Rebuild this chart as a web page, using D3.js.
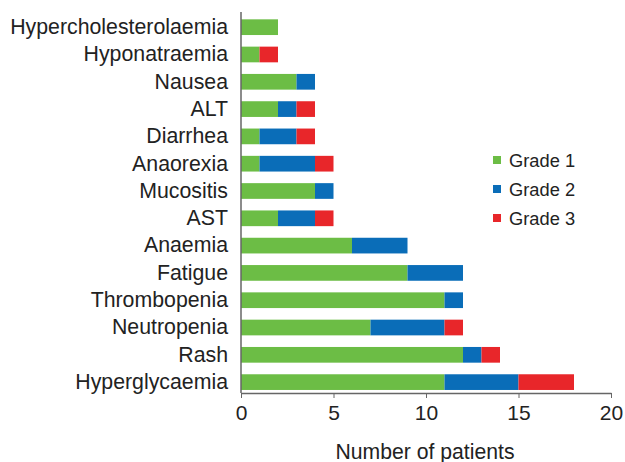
<!DOCTYPE html>
<html><head><meta charset="utf-8">
<script src="https://cdn.jsdelivr.net/npm/d3@7"></script>
<style>body{margin:0;background:#fff;} text{font-family:"Liberation Sans",Arial,sans-serif;fill:#222;}</style>
</head><body><svg id="c" width="625" height="462"></svg>
<script>
const categories = ["Hypercholesterolaemia","Hyponatraemia","Nausea","ALT","Diarrhea","Anaorexia","Mucositis","AST","Anaemia","Fatigue","Thrombopenia","Neutropenia","Rash","Hyperglycaemia"];
const grade1 = [2,1,3,2,1,1,4,2,6,9,11,7,12,11];
const grade2 = [0,0,1,1,2,3,1,2,3,3,1,4,1,4];
const grade3 = [0,1,0,1,1,1,0,1,0,0,0,1,1,3];
const seriesNames = ["Grade 1","Grade 2","Grade 3"];
const colors = ["#6cbd45","#0a6db8","#e8262a"];
const xTicks = [0,5,10,15,20];

const svg = d3.select("#c");
const x = d3.scaleLinear().domain([0,20]).range([241,611]);
const y = d3.scaleBand().domain(categories).range([16.6,392.7]).paddingInner(0.425).paddingOuter(0.1);

const rows = categories.map((c,i)=>({cat:c,"Grade 1":grade1[i],"Grade 2":grade2[i],"Grade 3":grade3[i]}));
const stack = d3.stack().keys(seriesNames)(rows);

svg.append("g").selectAll("g").data(stack).join("g")
  .attr("fill",(d,i)=>colors[i])
  .selectAll("rect").data(d=>d).join("rect")
  .attr("x",d=>x(d[0])).attr("width",d=>x(d[1])-x(d[0]))
  .attr("y",d=>y(d.data.cat)).attr("height",y.bandwidth());

// y axis
const ya = svg.append("g").attr("transform","translate(241,0)").call(d3.axisLeft(y).tickSize(0).tickPadding(13));
ya.select(".domain").attr("d","M0,12V393").attr("stroke","#666").attr("stroke-width",1.5);
ya.selectAll("text").attr("font-size",21.3).attr("font-family","Liberation Sans, Arial, sans-serif").attr("fill","#222");

// x axis
const xa = svg.append("g").attr("transform","translate(0,393)").call(d3.axisBottom(x).tickValues(xTicks).tickSize(5).tickPadding(7).tickSizeOuter(0));
xa.select(".domain").attr("stroke","#666").attr("stroke-width",1.5);
xa.selectAll("line").attr("stroke","#666");
xa.selectAll("text").attr("font-size",21).attr("font-family","Liberation Sans, Arial, sans-serif").attr("fill","#222");

svg.append("text").attr("x",425).attr("y",459).attr("text-anchor","middle").attr("font-size",21.2).text("Number of patients");

// legend
const lg = svg.append("g").selectAll("g").data(seriesNames).join("g")
  .attr("transform",(d,i)=>`translate(497,${160+i*29})`);
lg.append("rect").attr("x",-4).attr("y",-4).attr("width",8).attr("height",8).attr("fill",(d,i)=>colors[i]);
lg.append("text").attr("x",12).attr("y",6.5).attr("font-size",18.3).text(d=>d);
</script></body></html>
